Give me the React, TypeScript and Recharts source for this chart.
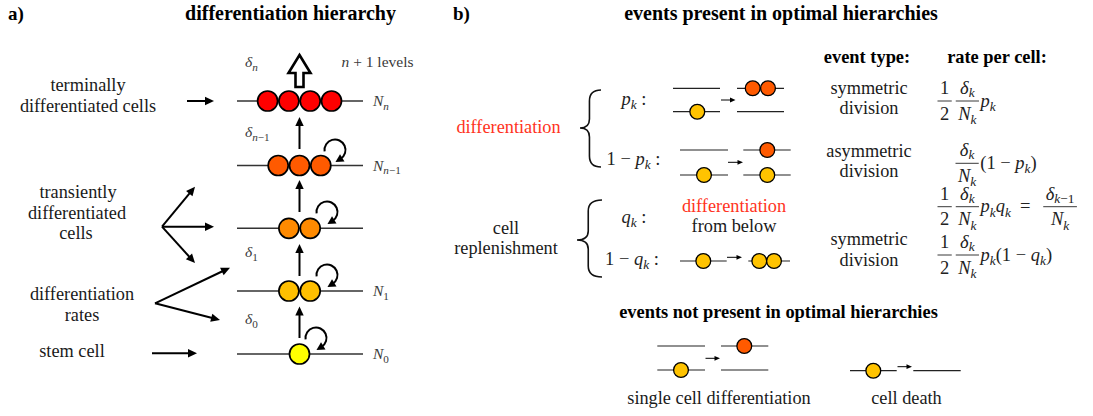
import React from 'react';
import { ScatterChart, Scatter, XAxis, YAxis, ReferenceLine } from 'recharts';

const W = 1093;
const H = 416;
const SERIF = '"Liberation Serif", "Times New Roman", serif';
const INK = '#1a1a1a';
const MATH_A = '#3a3a3a';

// ---------- panel a: hierarchy ----------
const hierarchyCells = [
  { x: 267.6, y: 101, c: 'n' }, { x: 288.9, y: 101, c: 'n' }, { x: 310.2, y: 101, c: 'n' }, { x: 331.5, y: 101, c: 'n' },
  { x: 278.2, y: 165.5, c: 'n1' }, { x: 299.5, y: 165.5, c: 'n1' }, { x: 320.8, y: 165.5, c: 'n1' },
  { x: 288.9, y: 228.3, c: 'l2' }, { x: 310.2, y: 228.3, c: 'l2' },
  { x: 288.9, y: 291, c: 'l1' }, { x: 310.2, y: 291, c: 'l1' },
  { x: 299.5, y: 354, c: 'l0' },
];
const hierarchyLevels = [
  { x1: 237, x2: 363, y: 101 },
  { x1: 237, x2: 363, y: 165.5 },
  { x1: 237, x2: 363, y: 228.3 },
  { x1: 237, x2: 363, y: 291 },
  { x1: 237, x2: 363, y: 354 },
];
const bigArrows = [
  { x1: 187, y1: 101, x2: 214, y2: 101 },
  { x1: 162, y1: 226.7, x2: 195, y2: 186.7 },
  { x1: 162, y1: 226.7, x2: 214, y2: 226.7 },
  { x1: 162, y1: 226.7, x2: 195, y2: 263 },
  { x1: 155, y1: 303.3, x2: 230, y2: 267.7 },
  { x1: 155, y1: 303.3, x2: 220, y2: 320 },
  { x1: 152, y1: 353.3, x2: 197, y2: 353.3 },
  { x1: 299.5, y1: 149, x2: 299.5, y2: 117 },
  { x1: 299.5, y1: 212, x2: 299.5, y2: 180 },
  { x1: 299.5, y1: 276, x2: 299.5, y2: 244 },
  { x1: 299.5, y1: 338, x2: 299.5, y2: 306.5 },
];
const selfRenewal = [
  { x: 335, y: 150 },
  { x: 327, y: 212 },
  { x: 327, y: 275 },
  { x: 316, y: 338 },
];
const exitArrow = [{ x: 299.5, y: 55 }];

// ---------- panel b: events ----------
const eventCells = [
  { x: 697.3, y: 111.7, c: 'y' }, { x: 752.7, y: 88.3, c: 'r' }, { x: 768, y: 88.3, c: 'r' },
  { x: 704, y: 175, c: 'y' }, { x: 767.3, y: 150, c: 'r' }, { x: 767.3, y: 175, c: 'y' },
  { x: 703.3, y: 261, c: 'y' }, { x: 759.3, y: 261, c: 'y' }, { x: 774, y: 261, c: 'y' },
  { x: 681, y: 370, c: 'y' }, { x: 744.3, y: 346, c: 'r' },
  { x: 873.3, y: 370.7, c: 'y' },
];
const eventLines = [
  { x1: 673, x2: 720, y: 88.3 }, { x1: 673, x2: 720, y: 111.7 },
  { x1: 737, x2: 784, y: 88.3 }, { x1: 737, x2: 784, y: 111.7 },
  { x1: 680, x2: 728, y: 150 }, { x1: 680, x2: 728, y: 175 },
  { x1: 743.3, x2: 790.7, y: 150 }, { x1: 743.3, x2: 790.7, y: 175 },
  { x1: 680, x2: 726.7, y: 261 }, { x1: 748.3, x2: 790, y: 261 },
  { x1: 657.3, x2: 705, y: 346 }, { x1: 657.3, x2: 705, y: 370 },
  { x1: 721, x2: 768.3, y: 346 }, { x1: 721, x2: 768.3, y: 370 },
  { x1: 850, x2: 896.7, y: 370.7 }, { x1: 913.3, x2: 960.7, y: 370.7 },
];
const smallArrows = [
  { x1: 721, y1: 100, x2: 735.5, y2: 100 },
  { x1: 728, y1: 162.3, x2: 743, y2: 162.3 },
  { x1: 727, y1: 257.3, x2: 742, y2: 257.3 },
  { x1: 705.5, y1: 358.3, x2: 720, y2: 358.3 },
  { x1: 897.5, y1: 366.7, x2: 912, y2: 366.7 },
];
const braces = [
  { x: 580, y: 128, top: 90, bottom: 167, right: 601 },
  { x: 577, y: 240, top: 200, bottom: 277, right: 602 },
];

// ---------- texts ----------
const labels = [
  { x: 8, y: 20, text: 'a)', kind: 'tag' },
  { x: 290.5, y: 20, text: 'differentiation hierarchy', kind: 'title' },
  { x: 453, y: 20, text: 'b)', kind: 'tag' },
  { x: 781, y: 20, text: 'events present in optimal hierarchies', kind: 'title' },
  { x: 88, y: 91, text: 'terminally', kind: 'body' },
  { x: 88, y: 112, text: 'differentiated cells', kind: 'body' },
  { x: 78, y: 198, text: 'transiently', kind: 'body' },
  { x: 77, y: 218.5, text: 'differentiated', kind: 'body' },
  { x: 76, y: 239, text: 'cells', kind: 'body' },
  { x: 82, y: 300, text: 'differentiation', kind: 'body' },
  { x: 82, y: 320.5, text: 'rates', kind: 'body' },
  { x: 72, y: 357, text: 'stem cell', kind: 'body' },
  { x: 867, y: 63, text: 'event type:', kind: 'head' },
  { x: 997, y: 63, text: 'rate per cell:', kind: 'head' },
  { x: 508.5, y: 133, text: 'differentiation', kind: 'red' },
  { x: 869, y: 93.5, text: 'symmetric', kind: 'body' },
  { x: 869, y: 114, text: 'division', kind: 'body' },
  { x: 869, y: 156.5, text: 'asymmetric', kind: 'body' },
  { x: 869, y: 177, text: 'division', kind: 'body' },
  { x: 734, y: 212, text: 'differentiation', kind: 'red' },
  { x: 734, y: 232, text: 'from below', kind: 'body' },
  { x: 506, y: 234, text: 'cell', kind: 'body' },
  { x: 506, y: 254, text: 'replenishment', kind: 'body' },
  { x: 869, y: 245, text: 'symmetric', kind: 'body' },
  { x: 869, y: 265.5, text: 'division', kind: 'body' },
  { x: 778.5, y: 318, text: 'events not present in optimal hierarchies', kind: 'head' },
  { x: 719, y: 404, text: 'single cell differentiation', kind: 'body' },
  { x: 906.5, y: 404, text: 'cell death', kind: 'body' },
];
const mathLabels = [
  { x: 245, y: 67, tex: 'δ_n', kind: 'ma' },
  { x: 341.5, y: 67, tex: 'n + 1 #levels#', kind: 'ma' },
  { x: 373, y: 106, tex: 'N_n', kind: 'ma' },
  { x: 245, y: 137, tex: 'δ_{n−1}', kind: 'ma' },
  { x: 373, y: 170.5, tex: 'N_{n−1}', kind: 'ma' },
  { x: 245, y: 257, tex: 'δ_1', kind: 'ma' },
  { x: 373, y: 296, tex: 'N_1', kind: 'ma' },
  { x: 245, y: 324, tex: 'δ_0', kind: 'ma' },
  { x: 373, y: 359, tex: 'N_0', kind: 'ma' },
  { x: 621.5, y: 105, tex: 'p_k :', kind: 'mb' },
  { x: 606.5, y: 165, tex: '1 − p_k :', kind: 'mb' },
  { x: 621.5, y: 223, tex: 'q_k :', kind: 'mb' },
  { x: 605, y: 265, tex: '1 − q_k :', kind: 'mb' },
];
const rates = [
  { x: 937, y: 101, parts: ['f:1|2', 'f:δ_k|N_k', 'm:p_k'] },
  { x: 955, y: 163.3, parts: ['f:δ_k|N_k', 'm:(1 − p_k)'] },
  { x: 937, y: 206.7, parts: ['f:1|2', 'f:δ_k|N_k', 'm:p_kq_k  =  ', 'f:δ_{k−1}|N_k'] },
  { x: 937, y: 255, parts: ['f:1|2', 'f:δ_k|N_k', 'm:p_k(1 − q_k)'] },
];

// ---------- styles ----------
const CELL_COLORS: Record<string, string> = {
  n: '#FF0000', n1: '#FF5A00', l2: '#FF8A00', l1: '#FFBF00', l0: '#FFFF00',
  y: '#FFC300', r: '#FF5A00',
};
const LABEL_STYLE: Record<string, any> = {
  tag: { fontSize: 19, fontWeight: 700, fill: '#000', anchor: 'start' },
  title: { fontSize: 20, fontWeight: 700, fill: '#000', anchor: 'middle' },
  head: { fontSize: 18.4, fontWeight: 700, fill: '#000', anchor: 'middle' },
  body: { fontSize: 18.3, fontWeight: 400, fill: INK, anchor: 'middle' },
  red: { fontSize: 18.3, fontWeight: 400, fill: '#FF3322', anchor: 'middle' },
};
const MATH_STYLE: Record<string, any> = {
  ma: { fs: 15.5, fill: MATH_A },
  mb: { fs: 18.5, fill: '#222' },
};

// ---------- tex-ish helpers ----------
type Seg = { s: string; sub: boolean; it: boolean };
function parseTex(str: string): Seg[] {
  const segs: Seg[] = [];
  let roman = false;
  const push = (ch: string, sub: boolean) => {
    const it = !roman && /[A-Za-zδ]/.test(ch);
    const last = segs[segs.length - 1];
    if (last && last.sub === sub && last.it === it) last.s += ch;
    else segs.push({ s: ch, sub, it });
  };
  const chars = Array.from(str);
  let i = 0;
  while (i < chars.length) {
    const ch = chars[i];
    if (ch === '#') { roman = !roman; i++; continue; }
    if (ch === '_') {
      if (chars[i + 1] === '{') {
        let j = i + 2;
        while (j < chars.length && chars[j] !== '}') { push(chars[j], true); j++; }
        i = j + 1;
      } else { push(chars[i + 1], true); i += 2; }
      continue;
    }
    push(ch, false);
    i++;
  }
  return segs;
}
let mctx: CanvasRenderingContext2D | null = null;
function texWidth(tex: string, fs: number): number {
  if (!mctx) mctx = document.createElement('canvas').getContext('2d');
  let w = 0;
  for (const g of parseTex(tex)) {
    if (!mctx) { w += g.s.length * fs * 0.5; continue; }
    mctx.font = `${g.it ? 'italic ' : ''}${g.sub ? fs * 0.72 : fs}px ${SERIF}`;
    w += mctx.measureText(g.s).width;
  }
  return w;
}
function TexText({ x, y, tex, fs, fill, anchor = 'start', subShift = 0.24 }: any) {
  const segs = parseTex(tex);
  let shift = 0;
  return (
    <text x={x} y={y} fontFamily={SERIF} fontSize={fs} fill={fill} textAnchor={anchor} style={{ whiteSpace: 'pre' }}>
      {segs.map((g, k) => {
        const t = g.sub ? fs * subShift : 0;
        const dy = t - shift;
        shift = t;
        return (
          <tspan key={k} dy={dy} fontSize={g.sub ? fs * 0.72 : fs} fontStyle={g.it ? 'italic' : 'normal'}>{g.s}</tspan>
        );
      })}
    </text>
  );
}

// ---------- shapes ----------
const BigCell = (p: any) => (
  <circle cx={p.cx} cy={p.cy} r={10} fill={CELL_COLORS[p.payload.c]} stroke="#000" strokeWidth={1.7} />
);
const SmallCell = (p: any) => (
  <circle cx={p.cx} cy={p.cy} r={7.4} fill={CELL_COLORS[p.payload.c]} stroke="#000" strokeWidth={1.3} />
);
const makeHead = (len: number, half: number) => (p: any) => {
  const { cx, cy, payload } = p;
  const dx = payload.x2 - payload.x1;
  const dy = payload.y2 - payload.y1;
  const L = Math.hypot(dx, dy) || 1;
  const ux = dx / L, uy = dy / L;
  const bx = cx - ux * len, by = cy - uy * len;
  const pts = `${cx},${cy} ${bx - uy * half},${by + ux * half} ${bx + uy * half},${by - ux * half}`;
  return <polygon points={pts} fill="#000" />;
};
const BigHead = makeHead(9, 4.2);
const SmallHead = makeHead(5.5, 2.4);
const CurlShape = (p: any) => {
  const { cx, cy } = p;
  const r = 10.5;
  const a0 = (172 * Math.PI) / 180;
  const a1 = (58 * Math.PI) / 180;
  const sx = cx + r * Math.cos(a0), sy = cy + r * Math.sin(a0);
  const ex = cx + r * Math.cos(a1), ey = cy + r * Math.sin(a1);
  const tx = -Math.sin(a1), ty = Math.cos(a1);
  const nx = Math.cos(a1), ny = Math.sin(a1);
  const tipX = ex + tx * 6, tipY = ey + ty * 6;
  const bX = ex - tx * 2, bY = ey - ty * 2;
  const pts = `${tipX},${tipY} ${bX + nx * 4.2},${bY + ny * 4.2} ${bX - nx * 4.2},${bY - ny * 4.2}`;
  return (
    <g>
      <path d={`M${sx},${sy} A${r},${r} 0 1 1 ${ex},${ey}`} fill="none" stroke="#000" strokeWidth={2} />
      <polygon points={pts} fill="#000" />
    </g>
  );
};
const ExitShape = (p: any) => {
  const { cx, cy } = p;
  const pts = [
    [0, 0], [11, 18], [4, 18], [4, 32], [-4, 32], [-4, 18], [-11, 18],
  ].map(([a, b]) => `${cx + a},${cy + b}`).join(' ');
  return <polygon points={pts} fill="#fff" stroke="#000" strokeWidth={2.6} strokeLinejoin="miter" />;
};
const BraceShape = (p: any) => {
  const { cx, cy, payload } = p;
  const y1 = cy + (payload.top - payload.y);
  const y2 = cy + (payload.bottom - payload.y);
  const xr = cx + (payload.right - payload.x);
  const xm = cx + (xr - cx) * 0.45;
  const d = `M${xr},${y1} Q${xm},${y1} ${xm},${y1 + 11} L${xm},${cy - 9} Q${xm},${cy} ${cx},${cy} Q${xm},${cy} ${xm},${cy + 9} L${xm},${y2 - 11} Q${xm},${y2} ${xr},${y2}`;
  return <path d={d} fill="none" stroke="#111" strokeWidth={1.6} />;
};
const LabelShape = (p: any) => {
  const s = LABEL_STYLE[p.payload.kind];
  return (
    <text x={p.cx} y={p.cy} fontFamily={SERIF} fontSize={s.fontSize} fontWeight={s.fontWeight} fill={s.fill} textAnchor={s.anchor}>
      {p.payload.text}
    </text>
  );
};
const MathShape = (p: any) => {
  const s = MATH_STYLE[p.payload.kind];
  return <TexText x={p.cx} y={p.cy} tex={p.payload.tex} fs={s.fs} fill={s.fill} />;
};
const RateShape = (p: any) => {
  const { cx, cy, payload } = p;
  const fs = 18.5;
  let cur = cx;
  const out: any[] = [];
  payload.parts.forEach((part: string, k: number) => {
    if (part.startsWith('f:')) {
      const [num, den] = part.slice(2).split('|');
      const w = Math.max(texWidth(num, fs), texWidth(den, fs)) + 6;
      out.push(<line key={'l' + k} x1={cur + 0.5} x2={cur + w - 0.5} y1={cy} y2={cy} stroke="#222" strokeWidth={0.9} />);
      out.push(<TexText key={'n' + k} x={cur + w / 2} y={cy - 7} tex={num} fs={fs} fill="#222" anchor="middle" subShift={0.17} />);
      out.push(<TexText key={'d' + k} x={cur + w / 2} y={cy + 18.5} tex={den} fs={fs} fill="#222" anchor="middle" subShift={0.24} />);
      cur += w + 3;
    } else {
      const t = part.slice(2);
      out.push(<TexText key={'m' + k} x={cur - 2} y={cy + 5.5} tex={t} fs={fs} fill="#222" />);
      cur += texWidth(t, fs) + 1;
    }
  });
  return <g>{out}</g>;
};

const tip = (arr: any[]) => arr.map((a) => ({ ...a, x: a.x2, y: a.y2 }));
const shaftEnd = (a: any, back: number) => {
  const dx = a.x2 - a.x1, dy = a.y2 - a.y1;
  const L = Math.hypot(dx, dy) || 1;
  return { x: a.x2 - (dx / L) * back, y: a.y2 - (dy / L) * back };
};

export default function App() {
  return (
    <div style={{ position: 'absolute', left: 0, top: 0, width: W, height: H, background: '#fff' }}>
      <ScatterChart width={W} height={H} margin={{ top: 0, right: 0, bottom: 0, left: 0 }}>
        <XAxis type="number" dataKey="x" domain={[0, W]} allowDataOverflow hide />
        <YAxis type="number" dataKey="y" domain={[0, H]} allowDataOverflow reversed hide />
        {hierarchyLevels.map((l, i) => (
          <ReferenceLine key={'hl' + i} segment={[{ x: l.x1, y: l.y }, { x: l.x2, y: l.y }]} stroke="#333" strokeWidth={1.4} />
        ))}
        {eventLines.map((l, i) => (
          <ReferenceLine key={'el' + i} segment={[{ x: l.x1, y: l.y }, { x: l.x2, y: l.y }]} stroke="#222" strokeWidth={1.2} />
        ))}
        {bigArrows.map((a, i) => (
          <ReferenceLine key={'ba' + i} segment={[{ x: a.x1, y: a.y1 }, shaftEnd(a, 6)]} stroke="#000" strokeWidth={2} />
        ))}
        {smallArrows.map((a, i) => (
          <ReferenceLine key={'sa' + i} segment={[{ x: a.x1, y: a.y1 }, shaftEnd(a, 4)]} stroke="#000" strokeWidth={1} />
        ))}
        <Scatter data={hierarchyCells} shape={BigCell} isAnimationActive={false} />
        <Scatter data={eventCells} shape={SmallCell} isAnimationActive={false} />
        <Scatter data={tip(bigArrows)} shape={BigHead} isAnimationActive={false} />
        <Scatter data={tip(smallArrows)} shape={SmallHead} isAnimationActive={false} />
        <Scatter data={selfRenewal} shape={CurlShape} isAnimationActive={false} />
        <Scatter data={exitArrow} shape={ExitShape} isAnimationActive={false} />
        <Scatter data={braces} shape={BraceShape} isAnimationActive={false} />
        <Scatter data={labels} shape={LabelShape} isAnimationActive={false} />
        <Scatter data={mathLabels} shape={MathShape} isAnimationActive={false} />
        <Scatter data={rates} shape={RateShape} isAnimationActive={false} />
      </ScatterChart>
    </div>
  );
}
